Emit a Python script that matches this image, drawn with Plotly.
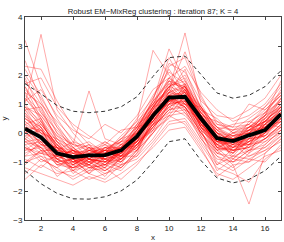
import plotly.graph_objects as go

x_vals = list(range(1, 18))

mean_curve = [0.15, -0.15, -0.7, -0.83, -0.77, -0.76, -0.6, -0.12, 0.6, 1.22, 1.25, 0.5, -0.18, -0.28, -0.08, 0.1, 0.65]
upper_bound = [1.7, 1.35, 0.95, 0.75, 0.7, 0.75, 0.9, 1.25, 1.95, 2.6, 2.65, 2.0, 1.38, 1.2, 1.3, 1.6, 2.15]
lower_bound = [-1.3, -1.75, -2.08, -2.27, -2.28, -2.2, -2.0, -1.62, -1.0, -0.3, -0.2, -0.95, -1.55, -1.72, -1.6, -1.3, -0.8]

c01 = [3.2, 1.6, 0.5, -0.3, -0.5, -0.8, -0.4, 0.2, 1.0, 1.8, 1.5, 0.6, -0.1, -0.4, 0.2, 0.5, 1.2]
c02 = [1.0, 3.4, 0.8, 0.0, -0.6, -0.3, -0.7, 0.1, 0.9, 1.6, 2.0, 0.9, 0.2, -0.3, 0.0, 0.4, 0.9]
c03 = [2.3, 2.2, 1.1, 0.2, -0.4, -0.6, -0.2, 0.3, 1.3, 2.1, 1.7, 0.8, 0.3, 0.1, 0.5, 0.9, 1.6]
c04 = [2.0, 1.2, 0.3, -0.5, -0.9, -0.6, -0.9, -0.3, 0.5, 1.4, 1.2, 0.4, -0.5, -0.2, -0.4, 0.3, 0.8]
c05 = [1.6, 0.8, -0.2, -0.6, -0.4, -1.0, -0.5, 0.0, 0.7, 1.0, 1.6, 0.7, 0.0, -0.6, -0.1, 0.2, 0.4]
c06 = [0.5, 0.2, -0.5, -1.1, -0.7, -0.9, -0.8, -0.4, 0.3, 1.2, 0.9, 0.1, -0.4, -0.7, -0.3, 0.0, 0.5]
c07 = [-0.3, -0.5, -1.0, -1.2, -1.0, -1.3, -0.9, -0.5, 0.2, 0.8, 1.0, 0.3, -0.6, -0.5, -0.4, -0.2, 0.3]
c08 = [-1.0, -0.8, -1.3, -1.5, -1.2, -1.1, -1.3, -0.7, 0.0, 0.6, 0.7, -0.2, -0.9, -1.0, -0.6, -0.5, 0.0]
c09 = [-1.6, -1.1, -1.4, -1.3, -1.6, -1.4, -1.1, -0.9, -0.3, 0.4, 0.5, -0.3, -1.1, -0.8, -0.9, -0.6, -0.3]
c10 = [0.8, 0.3, -0.4, -0.8, -1.1, -0.7, -0.5, 0.1, 1.1, 2.9, 1.8, 0.9, 0.0, -0.3, 0.2, 0.6, 1.1]
c11 = [0.2, -0.2, -0.9, -0.6, -0.8, -0.6, -0.3, -0.2, 0.6, 1.5, 3.45, 1.0, 0.1, -0.2, 0.0, 0.3, 0.7]
c12 = [1.2, 0.5, -0.3, -0.9, -0.5, -0.9, -0.7, 0.0, 0.8, 2.3, 2.6, 1.2, 0.4, 0.0, 0.3, 0.8, 1.3]
c13 = [-0.5, -0.7, -0.8, -1.0, -1.3, -0.8, -1.0, -0.6, 0.4, 0.9, 0.6, 0.0, -0.8, -1.2, -0.7, -0.3, 0.2]
c14 = [0.0, 0.4, -0.6, -0.7, -0.9, -1.2, -0.6, -0.1, 0.5, 1.3, 1.4, 0.5, -0.3, 0.0, -0.2, 0.4, 1.0]
c15 = [1.5, 0.9, 0.0, -0.7, -0.6, -0.4, -0.8, -0.2, 0.9, 1.1, 1.3, 0.2, -0.2, -0.6, -0.5, 0.1, 0.6]
c16 = [-0.8, -0.3, -1.1, -0.9, -1.4, -1.0, -0.7, -0.3, 0.2, 1.0, 0.8, -0.1, -1.3, -0.9, -1.0, -0.4, 0.1]
c17 = [0.4, 0.0, -0.3, -1.0, -0.6, -0.8, -0.9, -0.5, 0.7, 1.7, 1.1, 0.6, -0.3, -0.5, 0.1, 0.2, 0.9]
c18 = [-0.2, -0.6, -0.6, -1.4, -1.0, -0.5, -0.6, 0.3, 1.0, 1.4, 1.7, 0.3, -0.2, -0.8, -0.2, -0.1, 0.5]
c19 = [0.9, 0.6, -0.1, -0.4, 1.45, -0.2, -0.4, -0.1, 0.4, 1.2, 1.0, 0.7, 0.1, 0.3, 0.4, 0.7, 1.4]
c20 = [-1.2, -1.4, -1.6, -1.8, -1.5, -1.7, -1.4, -1.0, -0.5, 0.1, 0.2, -0.6, -1.4, -1.6, -1.2, -0.8, -0.6]
c21 = [0.6, -0.1, -0.7, -1.2, -0.9, -0.6, -0.2, 0.4, 2.85, 2.0, 1.3, 0.4, -0.5, -0.7, 0.0, 0.5, 0.8]
c22 = [-0.4, -0.9, -1.2, -0.8, -1.1, -1.4, -1.2, -0.6, 0.0, 0.9, 1.2, 0.2, -0.7, -0.4, -0.8, -0.6, -0.1]
c23 = [1.8, 1.0, 0.4, -0.2, -0.7, -0.5, -0.3, 0.5, 1.2, 2.4, 2.1, 1.1, 0.6, 0.5, 0.8, 1.2, 2.0]
c24 = [0.3, -0.4, -0.5, -0.9, -1.2, -1.1, -0.9, -0.4, 0.3, 0.7, 1.5, 0.6, -0.1, -0.3, -0.6, 0.0, 0.4]
c25 = [-0.6, -0.2, -0.9, -1.1, -0.8, -0.9, -1.1, -0.2, 0.6, 1.1, 0.9, 0.0, -0.6, -1.1, -2.45, -0.7, -0.2]
c26 = [1.1, 1.5, 0.6, 0.1, -0.2, 0.3, 0.0, 0.6, 1.5, 1.9, 2.3, 1.4, 0.8, 0.4, 0.6, 1.0, 1.7]
c27 = [0.1, -0.3, -1.0, -0.5, -1.0, -0.7, -0.4, -0.6, 0.5, 1.4, 0.8, 0.5, -0.4, 0.1, 0.3, -0.2, 0.3]
c28 = [-0.9, -1.2, -0.7, -1.3, -1.1, -1.5, -0.8, -0.8, 0.1, 0.5, 1.1, 0.1, -1.0, -1.3, -0.9, -1.0, -0.4]
c29 = [0.7, 0.1, -0.6, -0.3, -0.9, -1.0, -0.6, 0.0, 0.9, 2.6, 1.6, 0.8, 0.2, -0.1, 0.1, 0.6, 1.5]
c30 = [0.0, 0.3, -0.4, -1.1, -0.5, -0.6, -0.8, 0.2, 0.4, 1.1, 1.4, 0.3, -0.2, -0.4, 0.4, 0.2, 0.6]
c31 = [2.2, 1.3, 0.2, -0.6, -0.8, -0.4, -0.6, -0.1, 0.8, 1.6, 1.9, 0.6, 0.0, -0.1, 0.0, 0.7, 1.1]
c32 = [-0.1, -0.5, -1.1, -1.2, -0.6, -0.8, -0.5, -0.3, 0.1, 1.0, 1.1, 0.4, -0.5, -0.6, -0.3, 0.1, 0.7]
c33 = [0.5, 0.0, -0.2, -0.8, -1.0, -1.3, -1.0, -0.2, 0.7, 1.3, 1.0, 0.9, -0.1, -0.9, -0.4, 0.3, 0.2]
c34 = [-1.4, -0.9, -1.2, -1.6, -1.3, -1.2, -1.6, -1.1, -0.4, 0.3, 0.4, -0.4, -1.2, -1.4, -1.7, -0.9, -0.5]
c35 = [1.3, 0.7, 0.1, -0.5, -0.3, -0.7, -0.1, 0.4, 1.0, 1.5, 2.8, 1.3, 0.3, 0.2, 0.3, 0.9, 1.4]
c36 = [0.3, 0.5, -0.8, -0.6, -1.1, -0.5, -0.7, -0.1, 0.5, 1.8, 1.2, 0.2, -0.3, -0.2, -0.5, 0.5, 1.0]
c37 = [-0.7, -0.4, -0.5, -1.0, -0.9, -1.2, -0.4, -0.5, 0.3, 0.6, 1.3, -0.1, -0.7, -0.9, -0.4, -0.3, 0.0]
c38 = [0.9, 0.2, -0.9, -0.7, -0.4, -0.9, -1.2, -0.7, 0.6, 1.3, 0.9, 0.0, -0.6, -0.1, 0.0, -0.1, 0.4]
c39 = [-0.3, -0.7, -0.4, -0.9, -1.4, -0.8, -0.3, 0.0, 0.8, 1.9, 1.5, 0.7, 0.0, -0.7, 0.1, 0.4, 0.9]
c40 = [1.7, 1.9, 0.9, 0.3, -0.1, -0.4, 0.1, 0.2, 1.1, 1.7, 1.6, 0.6, 0.4, 0.2, 1.0, 0.8, 1.3]
c41 = [0.2, 0.1, -0.5, -1.3, -0.7, -1.1, -0.6, -0.4, 0.2, 0.8, 1.7, 0.5, -0.5, -1.0, -0.6, -0.2, 0.1]
c42 = [-0.5, -1.0, -0.8, -0.6, -1.2, -1.3, -0.9, -0.1, 0.4, 1.2, 0.7, 0.1, -1.1, -0.5, -0.3, 0.0, 0.6]
c43 = [1.4, 0.4, -0.5, -0.8, -0.8, -0.3, -0.6, 0.1, 1.2, 2.2, 1.4, 0.9, 0.0, -0.3, -0.2, 0.6, 1.8]
c44 = [-1.1, -0.6, -1.5, -1.1, -1.4, -1.6, -1.1, -0.8, -0.2, 0.6, 0.3, -0.5, -1.5, -1.1, -1.0, -0.7, -0.2]
c45 = [0.8, 0.9, -0.3, -0.6, -0.9, -0.5, -0.5, 0.3, 0.7, 1.4, 2.2, 0.8, 0.5, 0.0, 0.2, 0.4, 0.5]
c46 = [0.0, -0.4, -0.7, -0.8, -0.5, -1.0, -0.8, -0.3, 0.9, 1.6, 1.0, 0.3, -0.2, -0.4, -0.1, 0.3, 1.2]
c47 = [2.5, 1.1, 0.0, -0.4, -0.5, -0.7, -0.2, 0.0, 0.6, 1.3, 1.6, 0.2, -0.3, 0.0, 0.1, 0.6, 0.9]
c48 = [-0.2, 0.2, -1.0, -0.9, -0.7, -0.7, -1.0, -0.4, 0.1, 1.0, 1.3, 0.4, -0.4, -0.2, -0.7, 0.2, 0.4]
c49 = [0.4, -0.1, -0.6, -0.7, -1.0, -0.9, -0.7, -0.2, 0.5, 1.3, 1.1, 0.3, -0.3, -0.4, -0.2, 0.2, 0.7]
c50 = [-0.4, -0.3, -0.9, -1.1, -0.8, -0.6, -0.9, -0.4, 0.4, 1.1, 1.3, 0.6, -0.2, -0.5, -0.1, 0.0, 0.5]
c51 = [1.0, 0.3, -0.4, -0.9, -0.6, -0.8, -0.5, 0.1, 0.8, 1.5, 1.2, 0.4, 0.0, -0.2, 0.1, 0.4, 1.0]
c52 = [0.1, -0.6, -0.8, -0.6, -0.9, -1.1, -0.7, -0.3, 0.6, 1.0, 1.5, 0.5, -0.4, -0.3, -0.3, -0.1, 0.6]
c53 = [-0.6, -0.5, -1.1, -1.0, -1.1, -0.7, -0.8, -0.5, 0.3, 1.2, 0.9, 0.2, -0.5, -0.6, -0.5, -0.2, 0.3]
c54 = [0.6, 0.2, -0.5, -1.0, -0.8, -0.9, -0.4, 0.0, 0.7, 1.6, 1.4, 0.7, 0.1, -0.1, 0.2, 0.3, 0.8]
c55 = [1.9, 0.7, -0.1, -0.6, -0.7, -0.6, -0.7, -0.1, 0.6, 1.2, 1.3, 0.5, -0.2, -0.3, 0.0, 0.2, 0.5]
c56 = [-0.1, 0.1, -0.7, -0.9, -1.2, -0.9, -0.5, -0.2, 0.5, 1.4, 1.6, 0.5, -0.3, -0.6, -0.3, 0.3, 0.9]
c57 = [0.2, -0.4, -0.9, -1.2, -0.9, -1.0, -0.9, -0.3, 0.3, 0.9, 1.2, 0.3, -0.5, -0.3, -0.4, 0.0, 0.4]
c58 = [0.9, 0.4, -0.3, -0.7, -0.9, -0.6, -0.6, 0.0, 1.0, 1.9, 1.4, 0.6, 0.1, -0.4, 0.0, 0.5, 1.1]
c59 = [-0.8, -0.7, -0.9, -1.2, -1.1, -1.2, -0.8, -0.6, 0.2, 0.8, 0.9, 0.0, -0.7, -0.8, -0.6, -0.4, 0.1]
c60 = [0.3, 0.0, -0.6, -0.8, -0.7, -0.5, -0.8, -0.2, 0.6, 1.3, 1.2, 0.6, -0.1, -0.2, 0.1, 0.1, 0.6]
c61 = [1.2, 0.6, -0.2, -0.5, -0.9, -1.0, -0.6, 0.1, 0.9, 1.6, 1.8, 0.7, 0.2, -0.2, 0.2, 0.6, 1.2]
c62 = [-0.3, -0.2, -0.8, -1.0, -0.7, -0.9, -1.0, -0.4, 0.2, 1.1, 1.0, 0.1, -0.4, -0.7, -0.2, -0.1, 0.2]
c63 = [0.7, -0.2, -0.7, -0.9, -0.8, -0.7, -0.5, -0.1, 0.8, 1.4, 1.3, 0.4, -0.1, -0.5, -0.1, 0.1, 0.8]
c64 = [0.0, -0.3, -0.5, -0.6, -1.0, -0.8, -0.7, -0.1, 0.4, 1.1, 1.3, 0.8, -0.2, -0.1, -0.3, 0.4, 0.7]
c65 = [1.4, 1.0, 0.2, -0.4, -0.6, -0.7, -0.3, 0.2, 1.1, 1.8, 1.6, 0.9, 0.2, 0.1, 0.2, 0.7, 1.3]
c66 = [-1.0, -0.6, -1.0, -1.3, -0.9, -1.0, -1.2, -0.6, 0.0, 0.7, 0.8, -0.2, -0.8, -1.0, -0.8, -0.5, -0.1]
c67 = [0.5, 0.1, -0.4, -0.9, -1.1, -0.8, -0.6, -0.3, 0.7, 1.2, 1.5, 0.4, -0.3, -0.3, 0.0, 0.2, 0.8]
c68 = [-0.2, -0.5, -0.7, -1.1, -0.8, -1.1, -0.7, -0.4, 0.3, 1.0, 1.1, 0.2, -0.6, -0.4, -0.4, 0.0, 0.5]
c69 = [0.8, 0.0, -0.8, -0.8, -0.6, -0.6, -0.6, 0.2, 0.9, 1.5, 1.0, 0.5, 0.0, -0.3, 0.1, 0.4, 0.9]
c70 = [0.1, -0.1, -0.6, -1.0, -0.8, -0.7, -0.8, -0.1, 0.6, 1.2, 1.3, 0.6, -0.2, -0.5, -0.2, 0.1, 0.6]
c71 = [1.6, 0.5, -0.5, -0.7, -0.8, -0.8, -0.6, -0.2, 0.5, 1.1, 1.4, 0.3, -0.3, -0.2, -0.1, 0.3, 0.7]
c72 = [-0.5, -0.8, -1.0, -0.9, -1.0, -1.1, -0.6, -0.3, 0.4, 1.3, 1.2, 0.2, -0.4, -0.6, -0.5, -0.2, 0.2]

curves = [c01, c02, c03, c04, c05, c06, c07, c08, c09, c10, c11, c12, c13, c14, c15, c16,
          c17, c18, c19, c20, c21, c22, c23, c24, c25, c26, c27, c28, c29, c30, c31, c32,
          c33, c34, c35, c36, c37, c38, c39, c40, c41, c42, c43, c44, c45, c46, c47, c48,
          c49, c50, c51, c52, c53, c54, c55, c56, c57, c58, c59, c60, c61, c62, c63, c64,
          c65, c66, c67, c68, c69, c70, c71, c72]

x_ticks = [2, 4, 6, 8, 10, 12, 14, 16]
y_ticks = [-3, -2, -1, 0, 1, 2, 3, 4]

fig = go.Figure()
for c in curves:
    fig.add_trace(go.Scatter(x=x_vals, y=c, mode="lines",
                             line=dict(color="rgba(255,0,0,0.42)", width=0.8),
                             hoverinfo="skip", showlegend=False))
fig.add_trace(go.Scatter(x=x_vals, y=upper_bound, mode="lines",
                         line=dict(color="#333333", width=1, dash="4px,3px"), showlegend=False))
fig.add_trace(go.Scatter(x=x_vals, y=lower_bound, mode="lines",
                         line=dict(color="#333333", width=1, dash="4px,3px"), showlegend=False))
fig.add_trace(go.Scatter(x=x_vals, y=mean_curve, mode="lines",
                         line=dict(color="black", width=3.8), showlegend=False))

axis_common = dict(showgrid=False, zeroline=False, showline=True, linecolor="#444",
                   linewidth=1, mirror="ticks", ticks="inside", ticklen=3, tickcolor="#444",
                   tickfont=dict(size=8, color="#222"))
fig.update_layout(
    width=284, height=242,
    margin=dict(l=25, r=3, t=17, b=22),
    paper_bgcolor="white", plot_bgcolor="white",
    font=dict(family="Liberation Sans, Arial, sans-serif", size=8, color="#222"),
    title=dict(text="Robust EM\u2212MixReg clustering : iteration 87; K = 4",
               x=0.5, xref="paper", y=0.965, yref="container", xanchor="center",
               font=dict(size=7.7, color="#222")),
    xaxis=dict(range=[1, 17], tickvals=x_ticks, title=dict(text="x", standoff=2, font=dict(size=8)),
               **axis_common),
    yaxis=dict(range=[-3, 4], tickvals=y_ticks, title=dict(text="y", standoff=5, font=dict(size=8)),
               **axis_common),
)
fig.write_html("out.html", config={"displayModeBar": False},
               post_script="document.body.style.margin='0';")
